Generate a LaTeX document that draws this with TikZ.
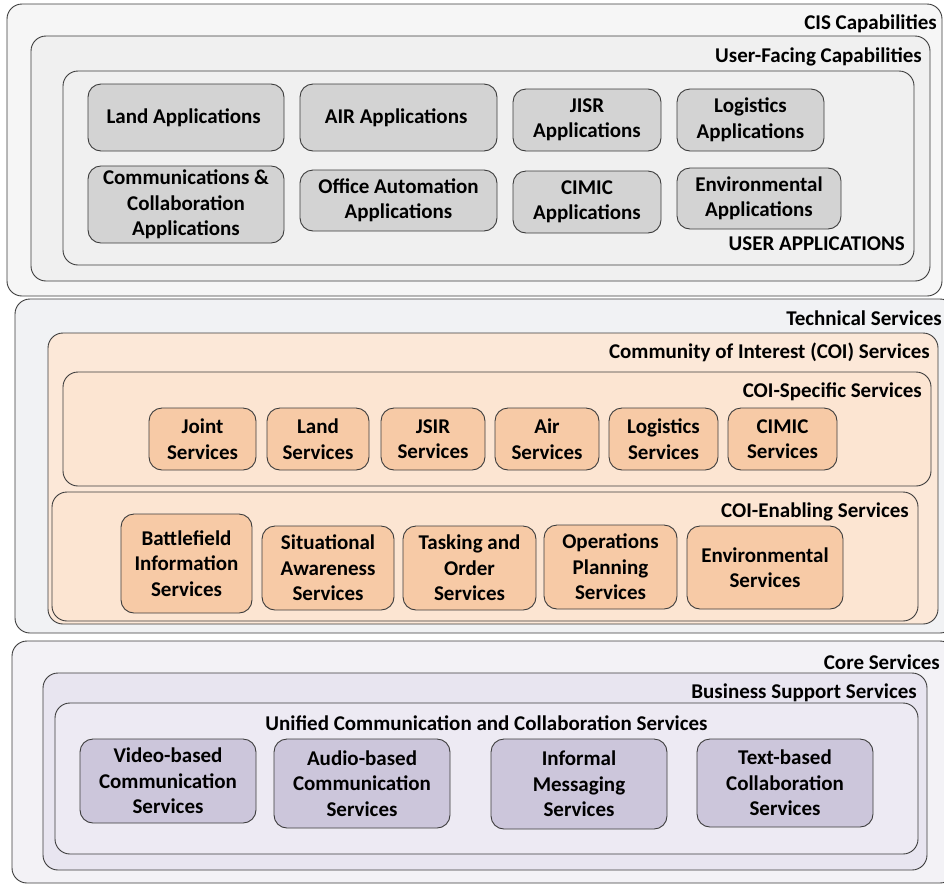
\documentclass[tikz,border=0pt]{standalone}
\usepackage{fontspec}
\setmainfont{Carlito}
\usetikzlibrary{positioning}

\definecolor{edge}{HTML}{3C3C3C}
\definecolor{paleGray}{HTML}{F6F6F6}
\definecolor{lightGray}{HTML}{F0F0F0}
\definecolor{appGray}{HTML}{D3D3D3}
\definecolor{paleBlue}{HTML}{F1F2F4}
\definecolor{paleOrange}{HTML}{FCE8D8}
\definecolor{lightOrange}{HTML}{FCE5D2}
\definecolor{svcOrange}{HTML}{F7CAA6}
\definecolor{palePurple}{HTML}{F3F2F6}
\definecolor{lightPurple}{HTML}{E8E5F0}
\definecolor{svcPurple}{HTML}{CCC6DB}

\begin{document}
\begin{tikzpicture}[x=1pt, y=-1pt, font=\fontsize{21}{25.5}\selectfont\bfseries,
	layer/.style = { rectangle, rounded corners=15pt, draw=edge, line width=0.9pt,
	inner sep=0pt },
	box/.style = { layer, rounded corners=13pt, align=center, inner sep=4pt },
	title/.style = { anchor=east, inner sep=0pt } ]

  \useasboundingbox (0,0) rectangle (944,884);

  % CIS capabilities
  \node [name=cis, layer, fill=paleGray,
	minimum width=935, minimum height=292] at (474.5,150) {};
  \node [name=cisTitle, title] at (937,24) { CIS Capabilities };
  \node [name=ufc, layer, fill=lightGray,
	minimum width=899, minimum height=245] at (480.5,158.5) {};
  \node [name=ufcTitle, title] at (922,57) { User-Facing Capabilities };
  \node [name=uapps, layer, fill=lightGray,
	minimum width=851, minimum height=194] at (488.5,168) {};
  \node [name=uappsTitle, title] at (905,244) { USER APPLICATIONS };

  \node [name=landApp, box, fill=appGray,
	minimum width=196, minimum height=67] at (186,117.5) { Land Applications };
  \node [name=airApp, box, fill=appGray,
	minimum width=197, minimum height=67] at (398.5,117.5) { AIR Applications };
  \node [name=jisrApp, box, fill=appGray,
	minimum width=148, minimum height=62] at (587,120) { JISR\\Applications };
  \node [name=logApp, box, fill=appGray,
	minimum width=147, minimum height=62] at (750.5,120) { Logistics\\Applications };
  \node [name=commApp, box, fill=appGray,
	minimum width=196, minimum height=75] at (186,204.5)
	{ Communications \&\\Collaboration\\Applications };
  \node [name=officeApp, box, fill=appGray,
	minimum width=197, minimum height=61] at (398.5,200.5)
	{ Office Automation\\Applications };
  \node [name=cimicApp, box, fill=appGray,
	minimum width=148, minimum height=62] at (587,202) { CIMIC\\Applications };
  \node [name=envApp, box, fill=appGray,
	minimum width=164, minimum height=61] at (759,198.5)
	{ Environmental\\Applications };

  % technical services
  \node [name=tech, layer, fill=paleBlue,
	minimum width=940, minimum height=334] at (485,466) {};
  \node [name=techTitle, title] at (942,318) { Technical Services };
  \node [name=coi, layer, fill=paleOrange,
	minimum width=890, minimum height=291] at (493,478.5) {};
  \node [name=coiTitle, title] at (930,352) { Community of Interest (COI) Services };
  \node [name=coiSpec, layer, fill=lightOrange,
	minimum width=868, minimum height=114] at (497,429) {};
  \node [name=coiSpecTitle, title] at (922,392) { COI-Specific Services };

  \node [name=jointSvc, box, fill=svcOrange,
	minimum width=107, minimum height=62] at (202.5,439) { Joint\\Services };
  \node [name=landSvc, box, fill=svcOrange,
	minimum width=102, minimum height=62] at (318,439) { Land\\Services };
  \node [name=jsirSvc, box, fill=svcOrange,
	minimum width=104, minimum height=62] at (433,439) { JSIR\\Services };
  \node [name=airSvc, box, fill=svcOrange,
	minimum width=104, minimum height=62] at (547,439) { Air\\Services };
  \node [name=logSvc, box, fill=svcOrange,
	minimum width=109, minimum height=62] at (663.5,439) { Logistics\\Services };
  \node [name=cimicSvc, box, fill=svcOrange,
	minimum width=109, minimum height=62] at (782.5,439) { CIMIC\\Services };

  \node [name=coiEnab, layer, fill=lightOrange,
	minimum width=866, minimum height=129] at (485,556.5) {};
  \node [name=coiEnabTitle, title] at (909,512) { COI-Enabling Services };

  \node [name=battleSvc, box, fill=svcOrange,
	minimum width=131, minimum height=99] at (186.5,563.5)
	{ Battlefield\\Information\\Services };
  \node [name=situSvc, box, fill=svcOrange,
	minimum width=132, minimum height=84] at (328,568)
	{ Situational\\Awareness\\Services };
  \node [name=taskSvc, box, fill=svcOrange,
	minimum width=133, minimum height=84] at (469.5,568)
	{ Tasking and\\Order\\Services };
  \node [name=opsSvc, box, fill=svcOrange,
	minimum width=133, minimum height=84] at (610.5,567)
	{ Operations\\Planning\\Services };
  \node [name=envSvc, box, fill=svcOrange,
	minimum width=156, minimum height=83] at (765,567.5)
	{ Environmental\\Services };

  % core services
  \node [name=core, layer, fill=palePurple,
	minimum width=943, minimum height=242] at (483.5,762) {};
  \node [name=coreTitle, title] at (940,662) { Core Services };
  \node [name=bss, layer, fill=lightPurple,
	minimum width=884, minimum height=197] at (485,771.5) {};
  \node [name=bssTitle, title] at (917,693) { Business Support Services };
  \node [name=ucc, layer, fill=lightPurple!80!white,
	minimum width=863, minimum height=151] at (486.5,778.5) {};
  \node [name=uccTitle, inner sep=0pt] at (486.5,723)
	{ Unified Communication and Collaboration Services };

  \node [name=videoSvc, box, fill=svcPurple,
	minimum width=176, minimum height=84] at (168,781)
	{ Video-based\\Communication\\Services };
  \node [name=audioSvc, box, fill=svcPurple,
	minimum width=176, minimum height=89] at (362,783.5)
	{ Audio-based\\Communication\\Services };
  \node [name=msgSvc, box, fill=svcPurple,
	minimum width=176, minimum height=90] at (579,784)
	{ Informal\\Messaging\\Services };
  \node [name=textSvc, box, fill=svcPurple,
	minimum width=176, minimum height=88] at (785,783)
	{ Text-based\\Collaboration\\Services };
\end{tikzpicture}
\end{document}
